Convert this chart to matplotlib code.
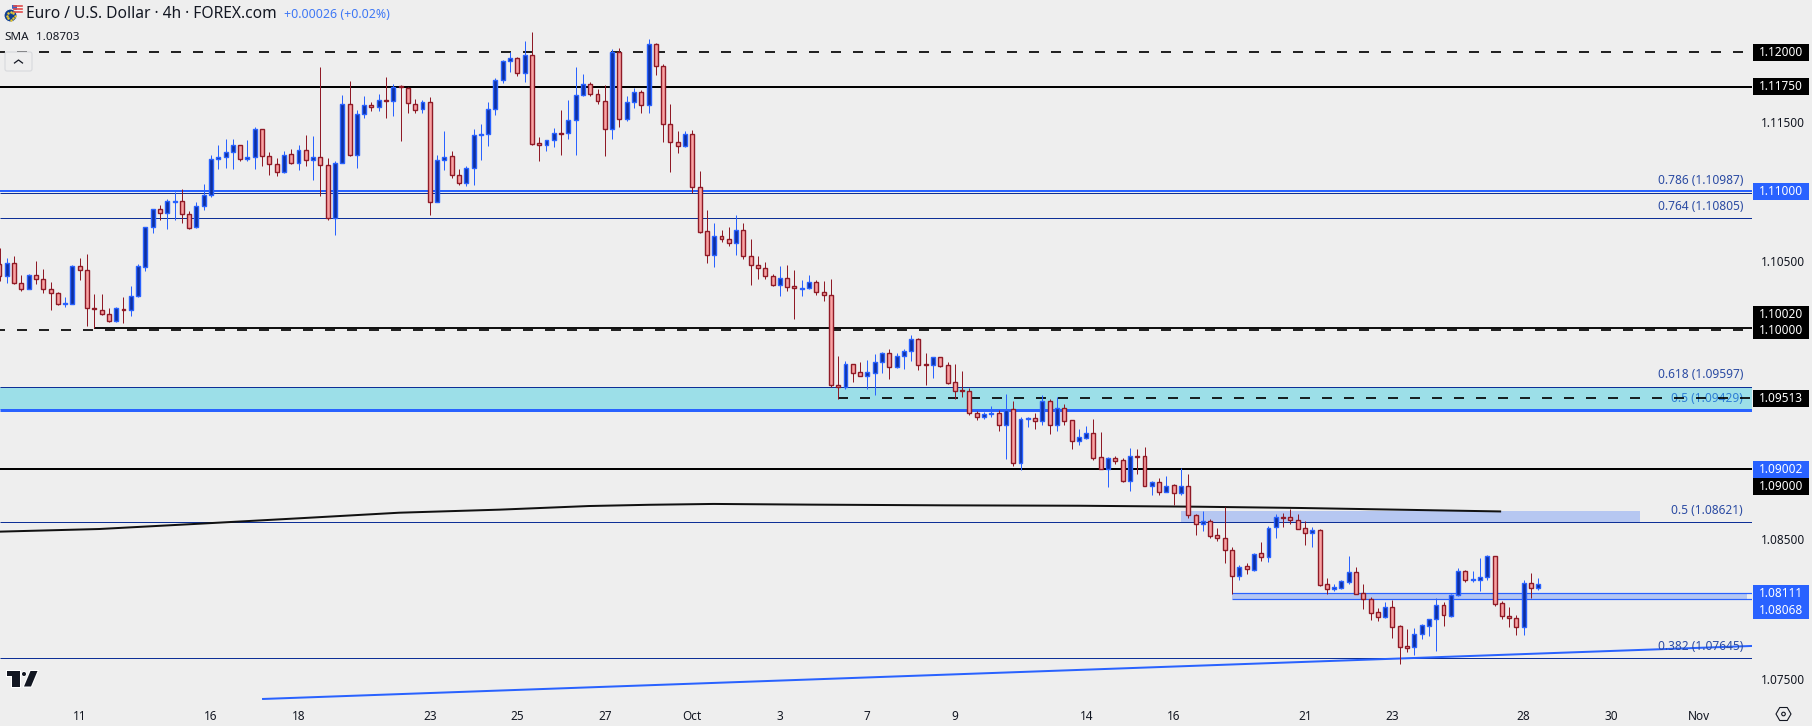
import numpy as np
import matplotlib
matplotlib.use("Agg")
import matplotlib.pyplot as plt
from matplotlib.patches import Rectangle, FancyBboxPatch, Circle, Polygon, RegularPolygon

PRICE_UNIT = 1e-5
high = [
110590,110519,110535,110397,110406,110499,110442,110349,110274,110239,
110468,110521,110550,110263,110263,110160,110167,110239,110320,110476,
110746,110871,110902,110942,110997,111014,110859,110923,111053,111261,
111333,111373,111373,111330,111369,111462,111445,111280,111237,111287,
111304,111333,111404,111397,111893,111237,111215,111692,111792,111582,
111685,111639,111699,111821,111771,111761,111747,111663,111656,111675,
111261,111433,111289,111160,111181,111447,111483,111641,111811,111943,
111998,111962,112079,112144,111390,111366,111454,111584,111655,111892,
111842,111785,111732,111761,112022,112029,111684,111742,111727,112094,
112065,111914,111627,111433,111433,111440,111146,110865,110772,110722,
110743,110830,110772,110657,110535,110492,110406,110463,110470,110434,
110363,110399,110360,110355,110370,109817,109782,109758,109774,109789,
109832,109846,109868,109839,109868,109968,109947,109839,109810,109808,
109774,109760,109710,109588,109420,109415,109458,109430,109545,109494,
109379,109379,109408,109537,109509,109521,109473,109358,109293,109315,
109365,109272,109092,109099,109085,109157,109150,109164,108917,108941,
108956,108898,109013,108970,108683,108704,108647,108582,108732,108443,
108313,108328,108400,108481,108596,108680,108689,108716,108682,108632,
108589,108574,108223,108179,108206,108381,108302,108179,108086,108007,
108050,108065,107885,107856,107863,107892,107928,108079,108050,108105,
108294,108280,108273,108366,108388,108378,108057,108014,107957,108208,
108258,108223]
low = [
110356,110344,110334,110284,110301,110334,110267,110148,110184,110172,
110188,110363,110033,110016,110112,110064,110064,110057,110104,110243,
110430,110703,110796,110732,110794,110775,110732,110739,110866,110962,
111160,111170,111160,111220,111220,111160,111184,111117,111112,111134,
111199,111153,111184,111081,110969,110794,110686,111201,111254,111170,
111527,111579,111577,111527,111541,111361,111562,111562,111562,110830,
110921,111153,111098,111045,111040,111045,111225,111325,111548,111780,
111857,111830,111785,111335,111217,111289,111318,111260,111375,111260,
111684,111684,111627,111253,111375,111462,111505,111598,111562,111562,
111835,111354,111138,111275,111318,110985,110703,110485,110456,110636,
110607,110542,110514,110327,110370,110370,110320,110248,110284,110083,
110248,110298,110255,110212,109592,109506,109578,109631,109676,109580,
109537,109695,109652,109731,109724,109782,109717,109609,109659,109738,
109619,109509,109523,109394,109358,109365,109379,109279,109078,109027,
108999,109308,109293,109322,109257,109279,109322,109150,109178,109221,
109071,109003,108877,109042,108913,108848,108970,108884,108819,108819,
108838,108745,108819,108654,108532,108561,108510,108489,108330,108105,
108208,108251,108273,108345,108337,108510,108589,108610,108574,108460,
108445,108165,108105,108129,108144,108179,108105,108000,107921,107914,
107935,107792,107605,107691,107670,107784,107806,107698,107878,107942,
108093,108194,108194,108129,108208,108021,107928,107871,107813,107813,
108079,108136]
open_ = [
110476,110394,110483,110344,110301,110397,110373,110296,110267,110193,
110193,110461,110437,110160,110150,110116,110066,110157,110150,110246,
110459,110741,110871,110842,110923,110928,110835,110741,110892,110971,
111230,111244,111285,111330,111230,111244,111445,111251,111194,111136,
111266,111201,111294,111222,111244,111187,110808,111201,111625,111258,
111553,111617,111603,111656,111646,111754,111740,111625,111589,111639,
110921,111222,111251,111114,111057,111165,111406,111409,111588,111797,
111933,111955,111847,111976,111344,111330,111366,111418,111416,111509,
111689,111768,111696,111646,111445,111998,111517,111639,111710,111617,
112055,111897,111481,111351,111323,111409,111028,110712,110540,110676,
110655,110626,110719,110533,110468,110446,110389,110324,110375,110317,
110300,110303,110346,110274,110253,109607,109592,109758,109700,109676,
109698,109770,109837,109741,109813,109849,109937,109760,109755,109808,
109750,109628,109571,109564,109410,109382,109403,109406,109324,109434,
109051,109367,109370,109353,109492,109324,109442,109355,109209,109231,
109262,109090,109008,109082,109068,108922,109099,109097,108886,108908,
108843,108889,108829,108881,108671,108613,108630,108529,108507,108421,
108239,108306,108282,108400,108371,108586,108661,108658,108641,108579,
108548,108565,108177,108146,108153,108196,108263,108112,108069,107976,
107942,108012,107875,107732,107725,107818,107880,107926,108026,107952,
108098,108270,108211,108211,108227,108378,108041,107947,107933,107868,
108184,108148]
close = [
110394,110483,110344,110301,110397,110373,110296,110267,110193,110198,
110461,110437,110160,110155,110116,110066,110160,110150,110246,110461,
110741,110871,110842,110928,110928,110835,110737,110892,110971,111230,
111244,111285,111330,111230,111244,111445,111251,111194,111136,111263,
111201,111294,111222,111244,111187,110808,111201,111625,111258,111553,
111617,111603,111653,111651,111747,111749,111632,111586,111639,110921,
111222,111249,111114,111057,111165,111402,111411,111588,111797,111933,
111955,111847,111976,111342,111330,111366,111416,111414,111509,111689,
111768,111696,111646,111445,112000,111517,111639,111710,111617,112055,
111897,111481,111351,111323,111409,111028,110710,110540,110676,110655,
110626,110719,110533,110468,110446,110389,110324,110375,110315,110303,
110305,110346,110274,110253,109607,109592,109758,109698,109676,109700,
109772,109837,109741,109813,109851,109937,109755,109755,109808,109748,
109626,109568,109564,109410,109382,109398,109408,109324,109432,109051,
109363,109372,109353,109492,109324,109442,109353,109209,109233,109262,
109087,109008,109082,109066,108920,109097,109094,108886,108910,108843,
108886,108829,108881,108671,108613,108630,108527,108506,108421,108239,
108304,108285,108397,108371,108584,108658,108656,108641,108577,108548,
108565,108175,108146,108158,108199,108263,108110,108069,107974,107945,
108012,107873,107729,107722,107818,107883,107926,108026,107954,108098,
108270,108211,108215,108227,108378,108038,107947,107933,107868,108184,
108148,108177]

sma_index = [0, 13.7, 27.4, 41.1, 54.8, 68.6, 80.8, 89.1, 97.9, 111.3, 129.7, 148.1, 164.5, 178.3, 205.9]
sma_price = [1.08555, 1.08574, 1.08612, 1.08651, 1.08691, 1.08713, 1.08739, 1.08748, 1.08754, 1.08749, 1.08744, 1.08741, 1.08734, 1.08725, 1.08700]
trend_index = [36, 240.3]
trend_price = [1.07353, 1.07734]

tick_index = [11, 29, 41, 59, 71, 83, 95, 107, 119, 131, 149, 161, 179, 191, 209, 221, 233]
tick_text = ["11", "16", "18", "23", "25", "27", "Oct", "3", "7", "9", "14", "16", "21", "23", "28", "30", "Nov"]
plain_prices = [1.115, 1.105, 1.085, 1.075]
# text, price, box colour, pixel lift of the stacked label
axis_labels = [("1.12000", 1.12, "k", 0), ("1.11750", 1.1175, "k", 0), ("1.11000", 1.11, "b", 0),
               ("1.10020", 1.1002, "k", 13.5), ("1.10000", 1.10, "k", 0), ("1.09513", 1.09513, "k", 0),
               ("1.09002", 1.09002, "b", 0), ("1.09000", 1.09, "k", -17),
               ("1.08111", 1.08111, "b", 0), ("1.08068", 1.08068, "b", -11.5)]
fib_labels = [("0.786 (1.10987)", 1.10987, 12.5), ("0.764 (1.10805)", 1.10805, 12.0),
              ("0.618 (1.09597)", 1.09597, 12.0), ("0.5 (1.09429)", 1.09429, 12.0),
              ("0.5 (1.08621)", 1.08621, 12.0), ("0.382 (1.07645)", 1.07645, 12.0)]

BG = "#eeeeee"
BLUE = "#2962ff"
NAVY = "#0d2f96"
UP_FILL = "#0e2f9f"
DN_FILL = "#f9a2a2"
DN_EDGE = "#8f1a26"
TXT = "#131722"
PX = 0.72
FONT = "Noto Sans"
plt.rcParams["font.family"] = [FONT, "DejaVu Sans"]
plt.rcParams["lines.scale_dashes"] = False

W, H, PANE_H, PANE_W = 1812, 726, 700, 1752
PER_PRICE = 13923.0
PER_BAR = 7.293
fig = plt.figure(figsize=(W / 100, H / 100), dpi=100, facecolor=BG)
ax = fig.add_axes([0, (H - PANE_H) / H, PANE_W / W, PANE_H / H], facecolor=BG)
ax.set_xlim(0.5 / PER_BAR, (PANE_W + 0.5) / PER_BAR)
ax.set_ylim(1.12 - (PANE_H - 52) / PER_PRICE, 1.12 + 52 / PER_PRICE)
for s in ax.spines.values():
    s.set_visible(False)
XR = ax.get_xlim()[1]
XL = ax.get_xlim()[0]
ax.set_xticks(tick_index, tick_text)
ax.yaxis.tick_right()
ax.set_yticks(plain_prices, [f"{p:.5f}" for p in plain_prices])
ax.tick_params(axis="both", length=0, colors=TXT, labelsize=8.5)
ax.tick_params(axis="x", pad=7.5)
ax.tick_params(axis="y", pad=6.5)
ax.get_xticklabels()[tick_text.index("Nov")].set_fontweight("bold")
ax.get_xticklabels()[tick_text.index("Oct")].set_fontweight("bold")

# zones
ax.add_patch(Rectangle((XL, 1.09429), XR - XL, 1.09597 - 1.09429, fc="#9cdfe8", ec="none", zorder=1))
ax.add_patch(Rectangle((162, 1.08621), 225 - 162, 1.08703 - 1.08621, fc="#b6c7f1", ec="none", zorder=1))
ax.add_patch(Rectangle((169, 1.08068), 239.6 - 169, 1.08111 - 1.08068, fc="#b6c7f1", ec="none", zorder=1))

# candles sit above the drawn levels
ix = np.arange(len(close))
o, h, l, c = [np.array(a) * PRICE_UNIT for a in (open_, high, low, close)]
up = c >= o
ax.vlines(ix[up], l[up], h[up], color=BLUE, lw=1.0 * PX, zorder=6)
ax.vlines(ix[~up], l[~up], h[~up], color=DN_EDGE, lw=1.0 * PX, zorder=6)
ax.bar(ix[up], (c - o)[up], bottom=o[up], width=0.54, color=UP_FILL, edgecolor=BLUE, linewidth=1.4 * PX, zorder=7)
ax.bar(ix[~up], (o - c)[~up], bottom=c[~up], width=0.54, color=DN_FILL, edgecolor=DN_EDGE, linewidth=1.4 * PX, zorder=7)

# horizontal levels
def level(price, color, w, x0=XL, ls="-", z=3):
    ax.plot([x0, XR], [price, price], color=color, lw=w * PX, ls=ls, solid_capstyle="butt",
            dash_capstyle="butt", zorder=z)

DASH = (5 * PX, (10 * PX, 12 * PX))
level(1.12, "k", 1.7, ls=DASH)
level(1.1175, "k", 2)
level(1.11, BLUE, 2)
level(1.10987, NAVY, 1)
level(1.10805, NAVY, 1)
level(1.1002, "#111111", 2, x0=13)
level(1.10, "k", 1.7, ls=DASH)
level(1.09597, NAVY, 1)
level(1.09429, BLUE, 3)
level(1.08621, NAVY, 1)
level(1.09002, "k", 2)
level(1.08111, BLUE, 1.2, x0=169)
level(1.08068, BLUE, 1.2, x0=169)
level(1.07645, NAVY, 1)
ax.plot(sma_index, sma_price, color="#111111", lw=2 * PX, zorder=3, solid_capstyle="butt")
ax.plot(trend_index, trend_price, color=BLUE, lw=2 * PX, zorder=3, solid_capstyle="butt")

for text, price, lift in fib_labels:
    col = "#2f7fd6" if text.startswith("0.5 (1.09") else "#2b4ba3"
    yp = price if text.startswith("0.5 (1.09") is False else 1.09513
    dy = lift if text != "0.5 (1.09429)" else 0
    ax.annotate(text, (1, yp), xycoords=ax.get_yaxis_transform(), xytext=(-9 * PX, dy * PX),
                textcoords="offset points", ha="right", va="center", color=col, fontsize=8.6, zorder=4)
level(1.09513, "k", 1.7, x0=115, ls=(0, (10 * PX, 12 * PX)), z=5)

# price axis labels
rax = fig.add_axes([PANE_W / W, (H - PANE_H) / H, (W - PANE_W) / W, PANE_H / H], sharey=ax)
rax.patch.set_alpha(0)
rax.set_xlim(PANE_W, W)
rax.axis("off")
rax.set_ylim(ax.get_ylim())
for text, price, box, lift in axis_labels:
    yc = price + lift / PER_PRICE
    rax.add_patch(Rectangle((1753, yc - 8.5 / PER_PRICE), 56, 17 / PER_PRICE,
                            fc="k" if box == "k" else BLUE, ec="none"))
    rax.text(1803, yc, text, color="w", ha="right", va="center", fontsize=8.5)

# header and icons in pixel space
ov = fig.add_axes([0, 0, 1, 1])
ov.set_xlim(0, W)
ov.set_ylim(H, 0)
ov.axis("off")
ov.patch.set_alpha(0)
ov.text(26, 14, "Euro / U.S. Dollar · 4h · FOREX.com", color=TXT, fontsize=11.2, ha="left", va="center")
ov.text(284, 14, "+0.00026 (+0.02%)", color="#3f78f5", fontsize=8.9, ha="left", va="center")
ov.text(4, 38, "SMA", color=TXT, fontsize=8.4, ha="left", va="center")
ov.text(36, 38, "1.08703", color=TXT, fontsize=8.4, ha="left", va="center")

ov.add_patch(Circle((17, 9.5), 5.5, fc="#f4f4f4", ec="none"))
for yy in (6, 9, 12):
    ov.plot([14, 22], [yy, yy], color="#e04b4b", lw=1.2)
ov.add_patch(Rectangle((11.5, 4.5), 5, 5, fc="#3a66c8", ec="none"))
ov.add_patch(Circle((10.5, 15.5), 6.5, fc="#0f3f91", ec=BG, lw=0.8))
for a in np.linspace(0, 2 * np.pi, 8, endpoint=False):
    ov.plot(10.5 + 4 * np.cos(a), 15.5 + 4 * np.sin(a), ".", color="#e8c830", ms=1.6)

ov.add_patch(FancyBboxPatch((5, 52), 27, 19, boxstyle="round,pad=0,rounding_size=2", fc=BG, ec="#d8d9dd", lw=0.8))
ov.plot([14.5, 18.5, 22.5], [63, 60, 63], color=TXT, lw=0.9)

for poly in ([(7, 671), (19.5, 671), (19.5, 686.5), (12, 686.5), (12, 676), (7, 676)],
             [(30.5, 671), (37.5, 671), (31, 686.5), (24, 686.5)]):
    ov.add_patch(Polygon(poly, closed=True, fc="#131722", ec="w", lw=1.5, joinstyle="miter"))
    ov.add_patch(Polygon(poly, closed=True, fc="#131722", ec="none"))
ov.add_patch(Circle((24, 674), 2.6, fc="#131722", ec="w", lw=0.8))

ov.add_patch(RegularPolygon((1783.5, 714), 6, radius=7.5, orientation=np.pi / 6, fc="none", ec=TXT, lw=0.8))
ov.add_patch(Circle((1783.5, 714), 1.8, fc="none", ec=TXT, lw=0.8))

fig.savefig("out.png", dpi=100, facecolor=BG)
